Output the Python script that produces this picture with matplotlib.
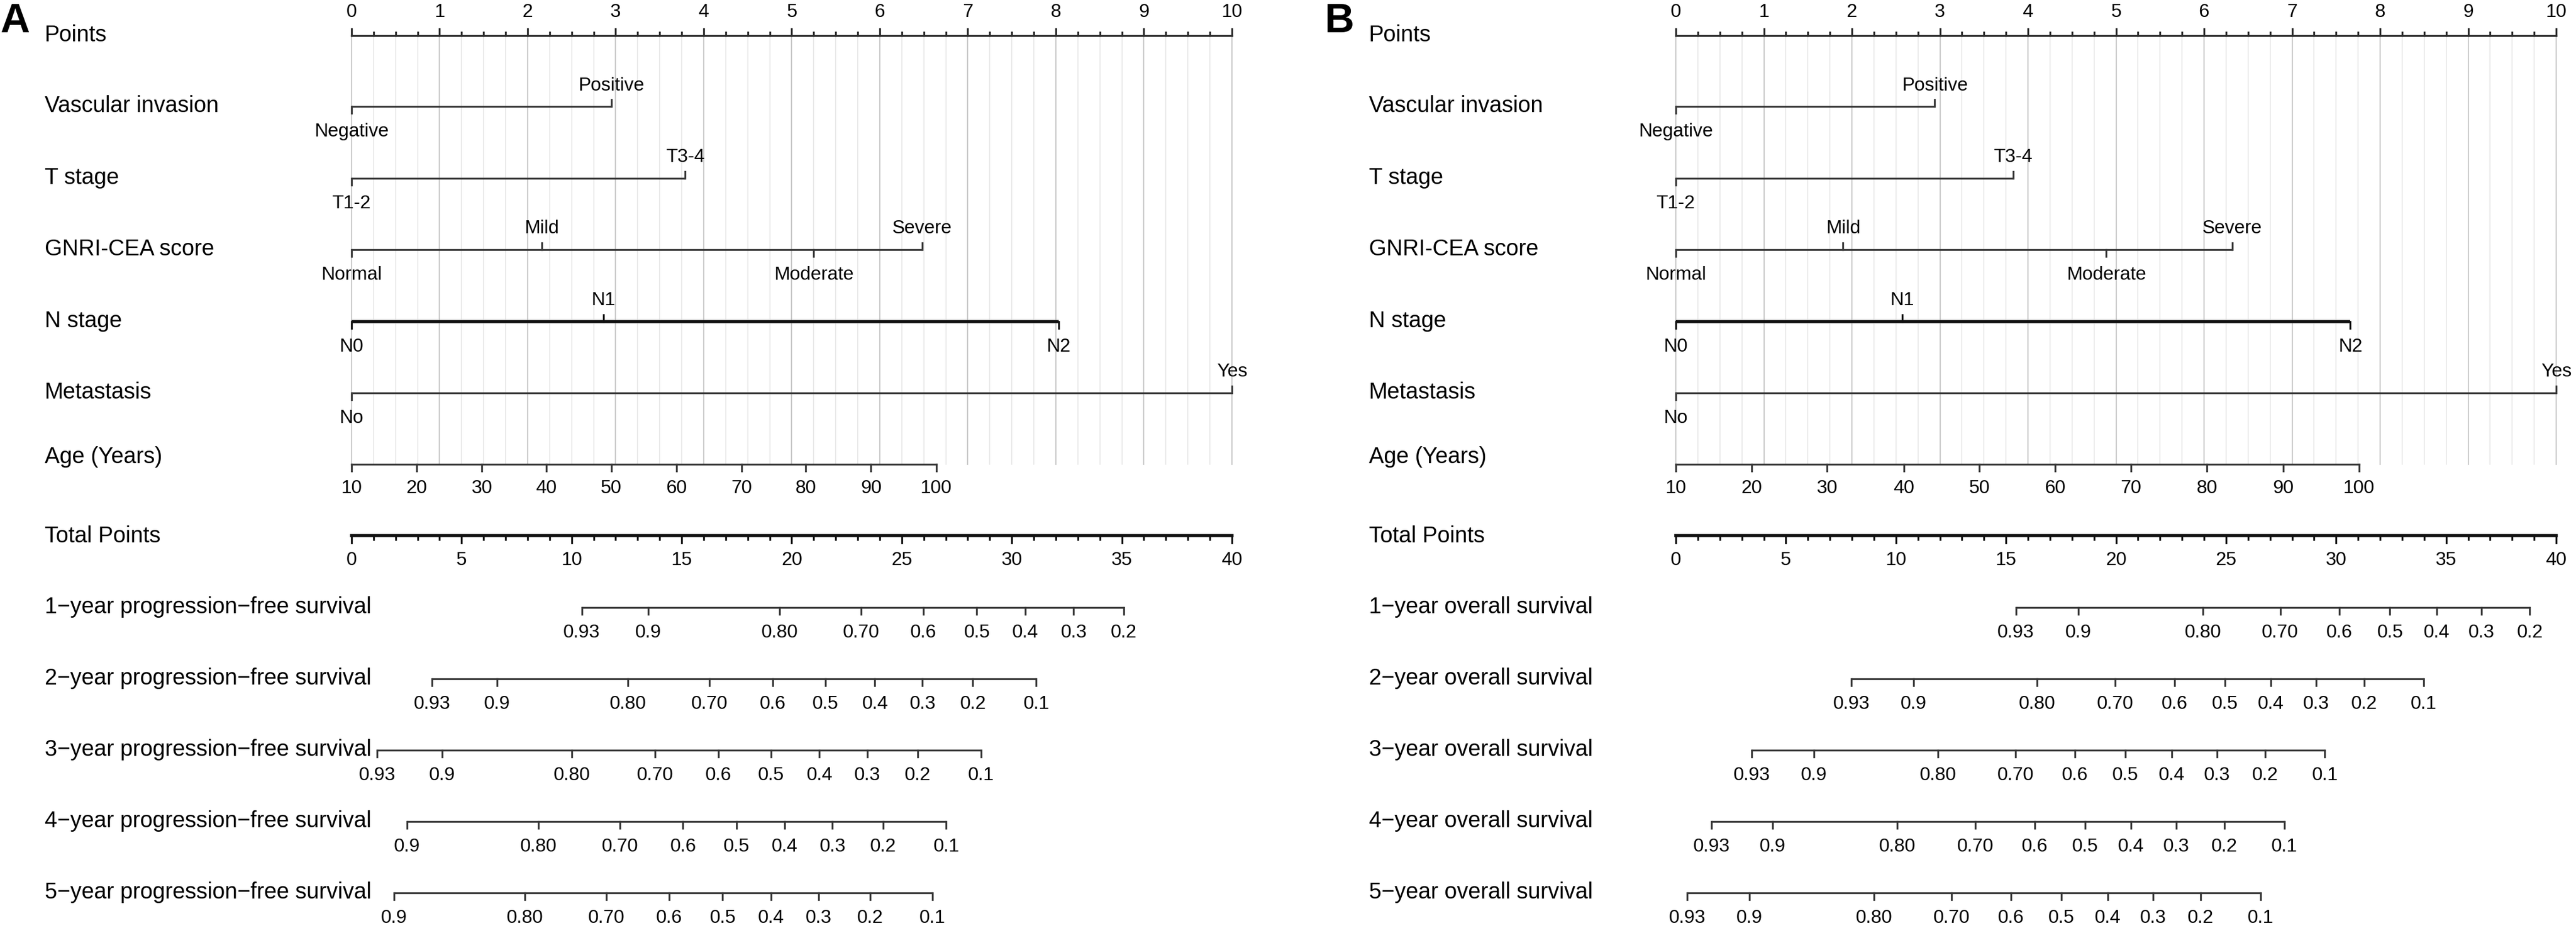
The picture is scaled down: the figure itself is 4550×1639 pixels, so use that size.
import numpy as np
import matplotlib
matplotlib.use("Agg")
import matplotlib.pyplot as plt

plt.rcParams['font.family'] = ['Liberation Sans', 'DejaVu Sans']

# ---- data (points scale 0-10, total points 0-40) ----
var_labels = ["Vascular invasion", "T stage", "GNRI-CEA score", "N stage", "Metastasis"]
vasc_levels = ["Negative", "Positive"]
tstage_levels = ["T1-2", "T3-4"]
gnri_levels = ["Normal", "Mild", "Moderate", "Severe"]
nstage_levels = ["N0", "N1", "N2"]
meta_levels = ["No", "Yes"]

vasc_pts_A = [0, 2.95]
tstage_pts_A = [0, 3.79]
gnri_pts_A = [0, 2.16, 5.25, 6.48]
nstage_pts_A = [0, 2.86, 8.03]
meta_pts_A = [0, 10]

vasc_pts_B = [0, 2.94]
tstage_pts_B = [0, 3.83]
gnri_pts_B = [0, 1.90, 4.89, 6.32]
nstage_pts_B = [0, 2.57, 7.66]
meta_pts_B = [0, 10]

age_ticks = [10, 20, 30, 40, 50, 60, 70, 80, 90, 100]
age_pts_A = [0, 0.74, 1.48, 2.21, 2.95, 3.69, 4.43, 5.16, 5.90, 6.64]
age_pts_B = [0, 0.86, 1.72, 2.59, 3.45, 4.31, 5.17, 6.03, 6.90, 7.76]

total_ticks = [0, 5, 10, 15, 20, 25, 30, 35, 40]

surv_A_names = ["1\u2212year progression\u2212free survival",
                "2\u2212year progression\u2212free survival",
                "3\u2212year progression\u2212free survival",
                "4\u2212year progression\u2212free survival",
                "5\u2212year progression\u2212free survival"]
surv_B_names = ["1\u2212year overall survival",
                "2\u2212year overall survival",
                "3\u2212year overall survival",
                "4\u2212year overall survival",
                "5\u2212year overall survival"]

lab_to02 = ["0.93", "0.9", "0.80", "0.70", "0.6", "0.5", "0.4", "0.3", "0.2"]
lab_to01 = ["0.93", "0.9", "0.80", "0.70", "0.6", "0.5", "0.4", "0.3", "0.2", "0.1"]
lab_09 = ["0.9", "0.80", "0.70", "0.6", "0.5", "0.4", "0.3", "0.2", "0.1"]

surv_A_labels = [lab_to02, lab_to01, lab_to01, lab_09, lab_09]
surv_A_tp = [
    [10.46, 13.47, 19.44, 23.14, 25.99, 28.41, 30.62, 32.81, 35.09],
    [3.65, 6.62, 12.55, 16.27, 19.13, 21.54, 23.78, 25.94, 28.23, 31.11],
    [1.16, 4.11, 10.0, 13.78, 16.66, 19.07, 21.26, 23.44, 25.73, 28.61],
    [2.52, 8.48, 12.2, 15.06, 17.48, 19.67, 21.85, 24.16, 27.02],
    [1.93, 7.87, 11.57, 14.42, 16.86, 19.07, 21.23, 23.55, 26.38],
]

surv_B_labels = [lab_to02, lab_to01, lab_to01, lab_to01, lab_to01]
surv_B_tp = [
    [15.45, 18.29, 23.95, 27.46, 30.15, 32.45, 34.56, 36.6, 38.8],
    [7.97, 10.8, 16.41, 19.96, 22.66, 24.95, 27.04, 29.09, 31.28, 33.98],
    [3.45, 6.27, 11.91, 15.43, 18.13, 20.43, 22.53, 24.59, 26.78, 29.49],
    [1.63, 4.4, 10.05, 13.6, 16.3, 18.6, 20.68, 22.74, 24.93, 27.66],
    [0.52, 3.35, 9.0, 12.52, 15.22, 17.52, 19.63, 21.68, 23.85, 26.57],
]

# ---- layout (pixels) ----
W, H = 4550, 1640
PX = 155.5          # pixels per point
ORIGIN = 621        # x of points=0 from panel left
LABEL_X = 79
row_y = {"points": 64, "vasc": 189, "tstage": 316, "gnri": 442, "nstage": 569,
         "meta": 695, "age": 821, "total": 947}
surv_y = [1074, 1200, 1326, 1452, 1578]

LAB_FS = 28.5
TICK_FS = 24
GRAY = '#383838'
BLACK = '#111111'
LW = 3.3 * 0.72
LW_THICK = 5.5 * 0.72
TICK = 12


def px2pt(px):
    return (px - ORIGIN) / PX


def scale_line(ax, y, xs, labels, sides, color=GRAY, lw=LW):
    ax.plot([min(xs), max(xs)], [y, y], color=color, lw=lw, solid_capstyle='butt', zorder=3)
    for x, lab, s in zip(xs, labels, sides):
        if s == 'up':
            ax.plot([x, x], [y, y - TICK], color=color, lw=LW, zorder=3)
            ax.text(x, y - 38, lab, ha='center', va='center', fontsize=TICK_FS, zorder=4)
        else:
            ax.plot([x, x], [y, y + TICK], color=color, lw=LW, zorder=3)
            ax.text(x, y + 44, lab, ha='center', va='center', fontsize=TICK_FS, zorder=4)


def alt_sides(n):
    return ['down' if i % 2 == 0 else 'up' for i in range(n)]


def draw_panel(ax, vars_pts, age_pts, surv_names, surv_labels, surv_tp):
    # vertical reference grid
    grid = np.arange(0, 10.001, 0.25)
    for g in grid:
        major = abs(g - round(g)) < 1e-6
        ax.plot([g, g], [row_y["points"], row_y["age"]],
                color='#cacaca' if major else '#e6e6e6',
                lw=2.2 * 0.72 if major else 1.6 * 0.72, zorder=1)

    lx = px2pt(LABEL_X)

    # points axis
    y = row_y["points"]
    ax.plot([0, 10], [y, y], color='#2a2a2a', lw=LW, zorder=3)
    for g in grid:
        major = abs(g - round(g)) < 1e-6
        ax.plot([g, g], [y, y - (TICK if major else 6)], color='#2a2a2a', lw=LW, zorder=3)
        if major:
            ax.text(g, 22, str(int(round(g))), ha='center', va='center', fontsize=TICK_FS)
    ax.text(lx, y - 2, "Points", ha='left', va='center', fontsize=LAB_FS)

    # categorical predictors
    keys = ["vasc", "tstage", "gnri", "nstage", "meta"]
    levels = [vasc_levels, tstage_levels, gnri_levels, nstage_levels, meta_levels]
    for key, name, lev, pts in zip(keys, var_labels, levels, vars_pts):
        y = row_y[key]
        thick = key == "nstage"
        scale_line(ax, y, pts, lev, alt_sides(len(lev)),
                   color=BLACK if thick else GRAY, lw=LW_THICK if thick else LW)
        ax.text(lx, y - 2, name, ha='left', va='center', fontsize=LAB_FS)

    # age
    y = row_y["age"]
    ax.plot([age_pts[0], age_pts[-1]], [y, y], color=GRAY, lw=LW, zorder=3)
    for x, a in zip(age_pts, age_ticks):
        ax.plot([x, x], [y, y + TICK], color=GRAY, lw=LW, zorder=3)
        ax.text(x, y + 42, str(a), ha='center', va='center', fontsize=TICK_FS)
    ax.text(lx, y - 14, "Age (Years)", ha='left', va='center', fontsize=LAB_FS)

    # total points
    y = row_y["total"]
    ax.plot([0, 10], [y, y], color=BLACK, lw=LW_THICK, zorder=3)
    for t in range(0, 41):
        major = t % 5 == 0
        ax.plot([t / 4, t / 4], [y, y + (13 if major else 7)], color=BLACK, lw=LW, zorder=3)
    for t in total_ticks:
        ax.text(t / 4, y + 43, str(t), ha='center', va='center', fontsize=TICK_FS)
    ax.text(lx, y, "Total Points", ha='left', va='center', fontsize=LAB_FS)

    # survival probability axes
    for yy, name, labs, tps in zip(surv_y, surv_names, surv_labels, surv_tp):
        xs = [t / 4 for t in tps]
        scale_line(ax, yy, xs, labs, ['down'] * len(labs))
        ax.text(lx, yy - 2, name, ha='left', va='center', fontsize=LAB_FS)


fig = plt.figure(figsize=(W / 100, H / 100), dpi=100, facecolor='white')

panels = [
    (0, 2339, [vasc_pts_A, tstage_pts_A, gnri_pts_A, nstage_pts_A, meta_pts_A],
     age_pts_A, surv_A_names, surv_A_labels, surv_A_tp, "A"),
    (2339, W - 2339, [vasc_pts_B, tstage_pts_B, gnri_pts_B, nstage_pts_B, meta_pts_B],
     age_pts_B, surv_B_names, surv_B_labels, surv_B_tp, "B"),
]

for left, width, vpts, apts, snames, slabs, stp, tag in panels:
    ax = fig.add_axes([left / W, 0, width / W, 1])
    ax.set_xlim(-ORIGIN / PX, (width - ORIGIN) / PX)
    ax.set_ylim(H, 0)
    ax.axis('off')
    draw_panel(ax, vpts, apts, snames, slabs, stp)
    ax.text(px2pt(0), 38, tag, ha='left', va='center', fontsize=52, fontweight='bold')

fig.savefig("out.png", dpi=100, facecolor='white')
